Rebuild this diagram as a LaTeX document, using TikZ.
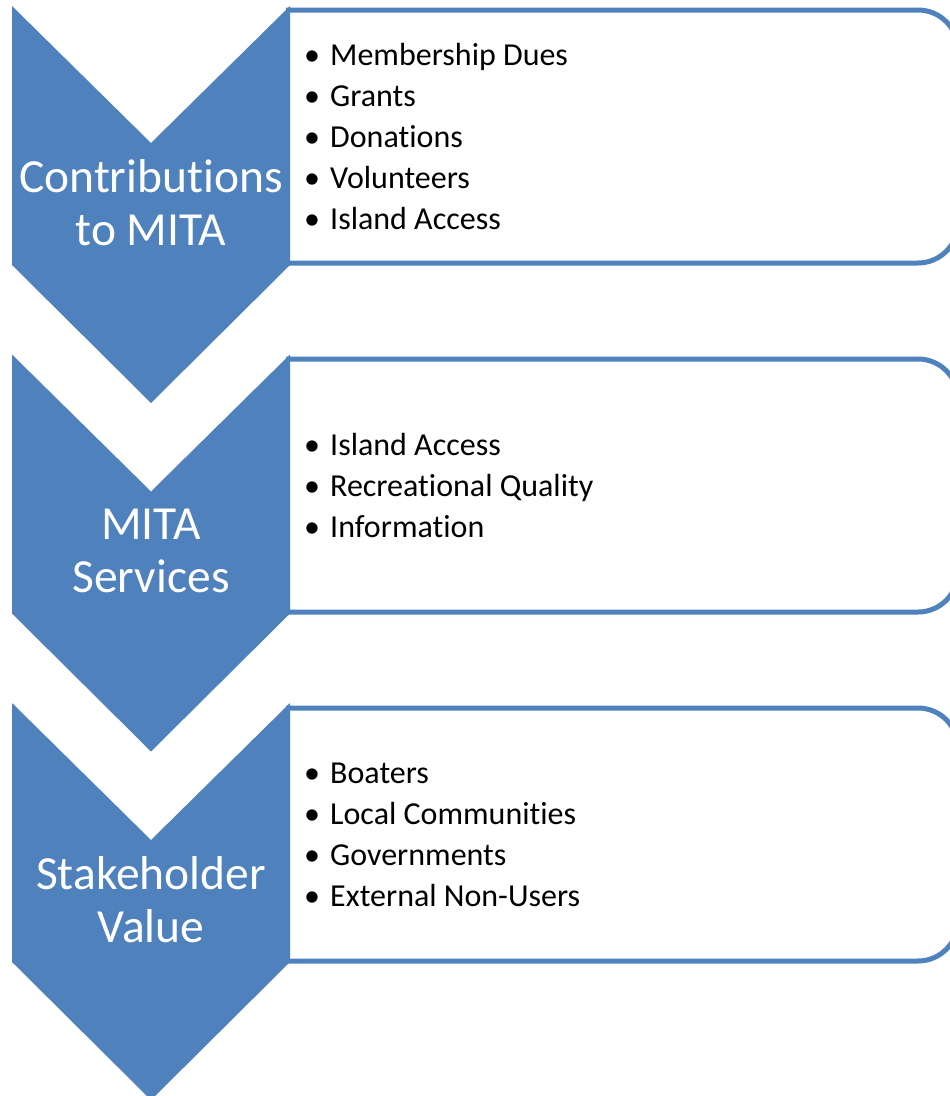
\documentclass[tikz,border=0pt]{standalone}
\usepackage{fontspec}
\setmainfont{Carlito}[Ligatures=NoCommon]
\definecolor{mitablue}{RGB}{79,129,189}
\newcommand{\itm}{\makebox[26pt][l]{\textbullet}}

\begin{document}
\begin{tikzpicture}[x=1pt, y=-1pt]
\tikzstyle{chevron} = [fill=mitablue]
\tikzstyle{panel} = [draw=mitablue, line width=5pt, rounded corners=40pt]
\tikzstyle{title} = [text=white, align=center, inner sep=0pt, font=\fontsize{47.5}{53}\selectfont]
\tikzstyle{list} = [anchor=west, align=left, inner sep=0pt, font=\fontsize{32}{41}\selectfont]

\useasboundingbox (0,0) rectangle (950,1096);

% the three panels (left side stays under the chevrons)
\draw [panel] (286,10) -- (958,10) -- (958,263) -- (286,263);
\draw [panel] (286,359) -- (958,359) -- (958,612) -- (286,612);
\draw [panel] (286,708) -- (958,708) -- (958,961) -- (286,961);

% chevrons
\fill [chevron] (12,6) -- (151,143) -- (290,6) -- (290,265) -- (151,403) -- (12,265) -- cycle;
\fill [chevron] (12,354.5) -- (151,491.5) -- (290,354.5) -- (290,613.5) -- (151,751.5) -- (12,613.5) -- cycle;
\fill [chevron] (12,703) -- (151,840) -- (290,703) -- (290,962) -- (151,1100) -- (12,962) -- cycle;

\node [title] (contrib) at (151,203) {Contributions\\to MITA};
\node [title] (services) at (151,551) {MITA\\Services};
\node [title] (value) at (151,900) {Stakeholder\\Value};

\node [list] (contriblist) at (304,136.5) {\itm Membership Dues\\\itm Grants\\\itm Donations\\\itm Volunteers\\\itm Island Access};
\node [list] (serviceslist) at (304,485.5) {\itm Island Access\\\itm Recreational Quality\\\itm Information};
\node [list] (valuelist) at (304,834.5) {\itm Boaters\\\itm Local Communities\\\itm Governments\\\itm External Non-Users};

\end{tikzpicture}
\end{document}
